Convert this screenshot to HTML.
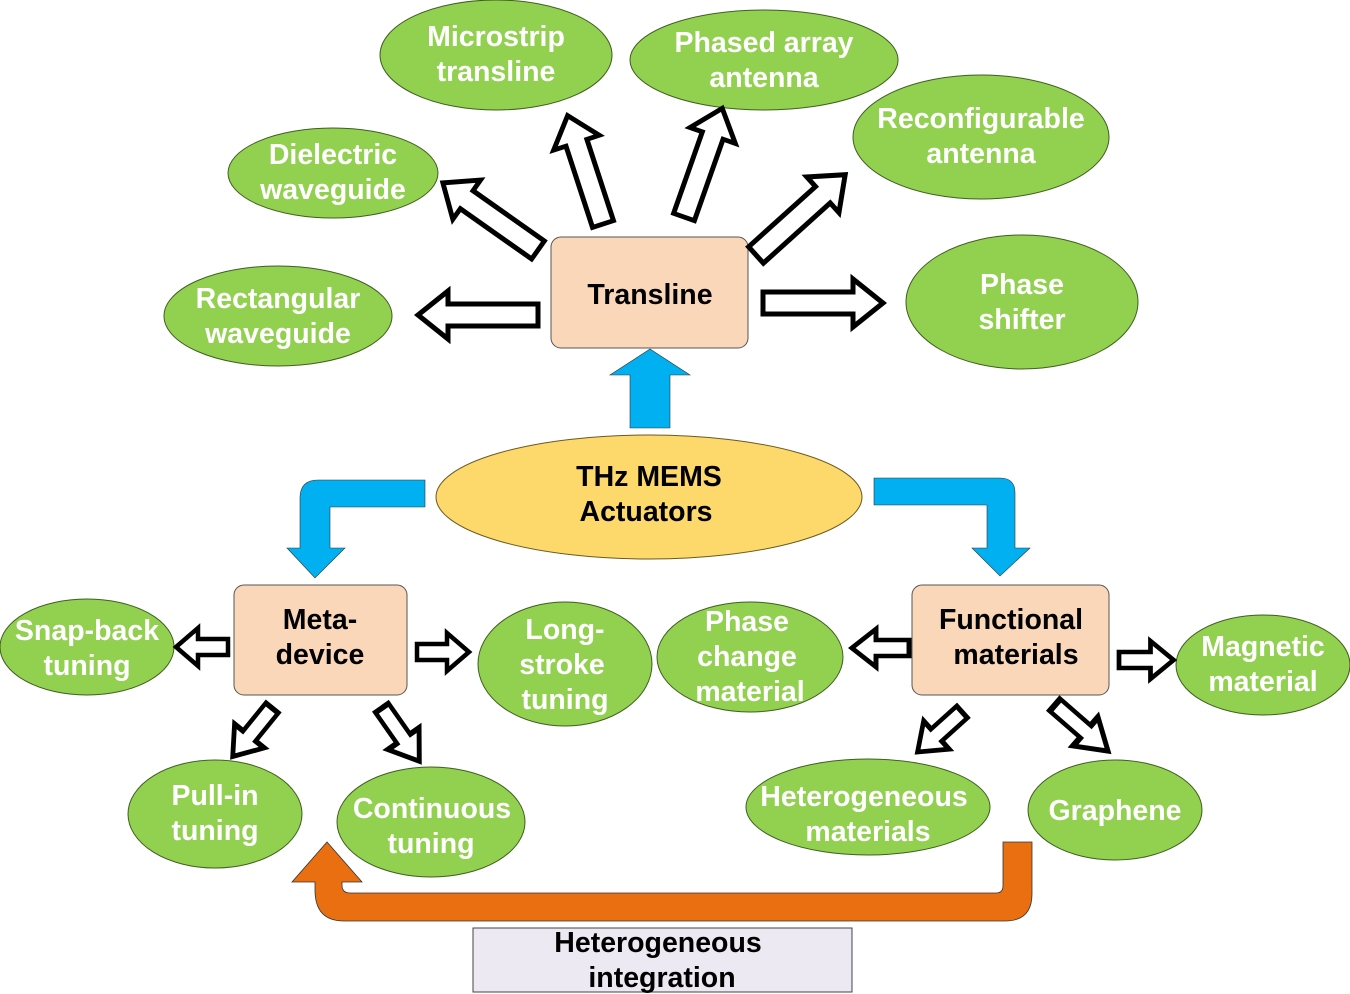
<!DOCTYPE html>
<html><head><style>body{margin:0;background:#fff}svg{display:block}
text{font-family:"Liberation Sans",sans-serif;font-weight:bold;text-anchor:middle}
.w{fill:#fff;font-size:28.5px}.b{fill:#000;font-size:28.5px}
.e{fill:#92D050;stroke:#3f5f1f;stroke-width:1}
.a{fill:#fff;stroke:#000;stroke-width:5;stroke-linejoin:miter}
.a2{fill:#fff;stroke:#000;stroke-width:4.5}
</style></head><body>
<svg width="1350" height="994" viewBox="0 0 1350 994">
<defs>
<polygon id="big" points="0,-11 90,-11 90,-24 120,0 90,24 90,11 0,11"/>
<polygon id="sm" points="0,-8 30,-8 30,-19 52,0 30,19 30,8 0,8"/>
</defs>
<ellipse class="e" cx="496" cy="55" rx="116" ry="55"/>
<ellipse class="e" cx="764" cy="60" rx="134" ry="50"/>
<ellipse class="e" cx="981" cy="137" rx="128" ry="62"/>
<ellipse class="e" cx="333" cy="173" rx="105" ry="45"/>
<ellipse class="e" cx="278" cy="316" rx="114" ry="50"/>
<ellipse class="e" cx="1022" cy="302" rx="116" ry="67"/>
<ellipse cx="649" cy="497" rx="213" ry="62" fill="#FDD86A" stroke="#6b5a20" stroke-width="1"/>
<ellipse class="e" cx="87" cy="647" rx="87" ry="48"/>
<ellipse class="e" cx="565" cy="664" rx="87" ry="62"/>
<ellipse class="e" cx="750" cy="657" rx="93" ry="55"/>
<ellipse class="e" cx="1263" cy="665" rx="87" ry="50"/>
<ellipse class="e" cx="215" cy="814" rx="87" ry="54"/>
<ellipse class="e" cx="431" cy="822" rx="94" ry="55"/>
<ellipse class="e" cx="868" cy="807" rx="122" ry="48"/>
<ellipse class="e" cx="1115" cy="810" rx="87" ry="50"/>
<rect x="551" y="237" width="197" height="111" rx="10" fill="#FAD7B8" stroke="#555" stroke-width="1"/>
<rect x="234" y="585" width="173" height="110" rx="10" fill="#FAD7B8" stroke="#555" stroke-width="1"/>
<rect x="912" y="585" width="197" height="110" rx="10" fill="#FAD7B8" stroke="#555" stroke-width="1"/>
<rect x="473" y="928" width="379" height="64" fill="#ECE9F2" stroke="#444" stroke-width="1"/>
<use href="#big" class="a" transform="translate(538,315) rotate(180)"/>
<use href="#big" class="a" transform="translate(763,303)"/>
<g transform="translate(538,250) rotate(215.2) scale(0.97,1)"><use href="#big" class="a"/></g>
<g transform="translate(603,224) rotate(251.9) scale(0.95,1)"><use href="#big" class="a"/></g>
<g transform="translate(684,217) rotate(289.4) scale(0.96,1)"><use href="#big" class="a"/></g>
<g transform="translate(756,255) rotate(318) scale(1.0,1)"><use href="#big" class="a"/></g>
<use href="#sm" class="a2" transform="translate(228,647) rotate(180)"/>
<use href="#sm" class="a2" transform="translate(417,652)"/>
<g transform="translate(272,708) rotate(129) scale(1.2,1)"><use href="#sm" class="a2"/></g>
<g transform="translate(382,708) rotate(55) scale(1.25,1)"><use href="#sm" class="a2"/></g>
<use href="#sm" class="a2" transform="translate(909,648) rotate(180) scale(1.1,1)"/>
<use href="#sm" class="a2" transform="translate(1119,660) scale(1.05,1)"/>
<g transform="translate(962,712) rotate(138) scale(1.15,1)"><use href="#sm" class="a2"/></g>
<g transform="translate(1055,705) rotate(41) scale(1.35,1)"><use href="#sm" class="a2"/></g>
<polygon points="630,428 670,428 670,375 690,375 650,349 610,375 630,375" fill="#00B0F0" stroke="#333" stroke-width="0.6"/>
<path d="M425,480 L318,480 Q300,480 300,498 L300,548 L287,548 L315,578 L345,548 L330,548 L330,507 L425,507 Z" fill="#00B0F0" stroke="#333" stroke-width="0.6"/>
<path d="M874,478 L1000,478 Q1015,478 1015,493 L1015,548 L1030,548 L1000,576 L972,548 L987,548 L987,505 L874,505 Z" fill="#00B0F0" stroke="#333" stroke-width="0.6"/>
<path d="M1003,842 L1032,842 L1032,894 Q1032,921 1005,921 L344,921 Q315,921 315,890 L315,882 L292,882 L327,842 L362,882 L342,882 L342,885 Q342,893 350,893 L996,893 Q1003,893 1003,886 Z" fill="#E96F10" stroke="#333" stroke-width="0.8"/>
<text class="w" x="496" y="46">Microstrip</text><text class="w" x="496" y="81">transline</text>
<text class="w" x="764" y="52">Phased array</text><text class="w" x="764" y="87">antenna</text>
<text class="w" x="981" y="128">Reconfigurable</text><text class="w" x="981" y="163">antenna</text>
<text class="w" x="333" y="164">Dielectric</text><text class="w" x="333" y="199">waveguide</text>
<text class="w" x="278" y="308">Rectangular</text><text class="w" x="278" y="343">waveguide</text>
<text class="w" x="1022" y="294">Phase</text><text class="w" x="1022" y="329">shifter</text>
<text class="b" x="650" y="304">Transline</text>
<text class="b" x="649" y="486">THz MEMS</text><text class="b" x="646" y="521">Actuators</text>
<text class="b" x="320" y="629">Meta-</text><text class="b" x="320" y="664">device</text>
<text class="b" x="1011" y="629">Functional</text><text class="b" x="1016" y="664">materials</text>
<text class="w" x="87" y="640">Snap-back</text><text class="w" x="87" y="675">tuning</text>
<text class="w" x="565" y="639">Long-</text><text class="w" x="562" y="674">stroke</text><text class="w" x="565" y="709">tuning</text>
<text class="w" x="747" y="631">Phase</text><text class="w" x="747" y="666">change</text><text class="w" x="750" y="701">material</text>
<text class="w" x="1263" y="656">Magnetic</text><text class="w" x="1263" y="691">material</text>
<text class="w" x="215" y="805">Pull-in</text><text class="w" x="215" y="840">tuning</text>
<text class="w" x="432" y="818">Continuous</text><text class="w" x="431" y="853">tuning</text>
<text class="w" x="864" y="806">Heterogeneous</text><text class="w" x="868" y="841">materials</text>
<text class="w" x="1115" y="820">Graphene</text>
<text class="b" x="658" y="952">Heterogeneous</text><text class="b" x="662" y="987">integration</text>
</svg>
</body></html>
